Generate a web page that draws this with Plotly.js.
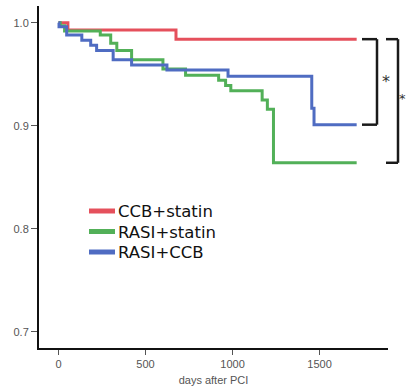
<!DOCTYPE html>
<html>
<head>
<meta charset="utf-8">
<script src="https://cdn.plot.ly/plotly-3.0.1.min.js"></script>
<style>html,body{margin:0;padding:0;background:#fff;}#chart{width:407px;height:389px;}</style>
</head>
<body>
<div id="chart"></div>
<script>
// Kaplan-Meier step data (days after PCI, event-free survival)
const seriesNames = ["CCB+statin", "RASI+statin", "RASI+CCB"];
const seriesColors = ["#e5505c", "#52b058", "#4f6cc2"];

const ccbStatinDays = [0, 54, 675, 1713];
const ccbStatinSurv = [1.0, 0.993, 0.984, 0.984];

const rasiStatinDays = [0, 10, 35, 240, 300, 335, 420, 600, 730, 920, 960, 990, 1170, 1200, 1235, 1713];
const rasiStatinSurv = [1.0, 0.997, 0.992, 0.988, 0.980, 0.973, 0.964, 0.955, 0.949, 0.944, 0.939, 0.934, 0.925, 0.916, 0.864, 0.864];

const rasiCcbDays = [0, 3, 47, 134, 185, 219, 314, 420, 623, 974, 1455, 1468, 1713];
const rasiCcbSurv = [1.0, 0.996, 0.988, 0.983, 0.978, 0.973, 0.964, 0.959, 0.954, 0.948, 0.917, 0.901, 0.901];

const xTickVals = [0, 500, 1000, 1500];
const xTickText = ["0", "500", "1000", "1500"];
const yTickVals = [0.7, 0.8, 0.9, 1.0];
const yTickText = ["0.7", "0.8", "0.9", "1.0"];

const allDays = [ccbStatinDays, rasiStatinDays, rasiCcbDays];
const allSurv = [ccbStatinSurv, rasiStatinSurv, rasiCcbSurv];

const traces = [];
for (let i = 0; i < 3; i++) {
  traces.push({
    x: allDays[i], y: allSurv[i], type: "scatter", mode: "lines",
    line: {shape: "hv", color: seriesColors[i], width: 3},
    name: seriesNames[i], showlegend: false, hoverinfo: "skip"
  });
}

const W = 407, H = 389;
const L = 39, R = 388, T = 6, B = 348;
const px = v => (v - L) / (R - L);
const py = v => (B - v) / (B - T);
const endRed = ccbStatinSurv[ccbStatinSurv.length - 1];
const endBlue = rasiCcbSurv[rasiCcbSurv.length - 1];
const endGreen = rasiStatinSurv[rasiStatinSurv.length - 1];
const bl = {color: "#1a1a1a", width: 2.5};
const shapes = [
  {type: "line", xref: "paper", yref: "y", x0: px(362), x1: px(377), y0: endRed, y1: endRed, line: bl},
  {type: "line", xref: "paper", yref: "y", x0: px(377), x1: px(377), y0: endRed, y1: endBlue, line: bl},
  {type: "line", xref: "paper", yref: "y", x0: px(362), x1: px(377), y0: endBlue, y1: endBlue, line: bl},
  {type: "line", xref: "paper", yref: "y", x0: px(386), x1: px(398), y0: endRed, y1: endRed, line: bl},
  {type: "line", xref: "paper", yref: "y", x0: px(398), x1: px(398), y0: endRed, y1: endGreen, line: bl},
  {type: "line", xref: "paper", yref: "y", x0: px(386), x1: px(398), y0: endGreen, y1: endGreen, line: bl}
];

// hand-placed legend (swatch + label) to match the reference spacing
const legendRows = [211, 231.5, 252];
const annotations = [
  {xref: "paper", yref: "paper", x: px(386), y: py(81), text: "*", showarrow: false,
   font: {family: "DejaVu Sans", size: 16, color: "#333"}, xanchor: "center", yanchor: "middle"},
  {xref: "paper", yref: "paper", x: px(402.5), y: py(98), text: "*", showarrow: false,
   font: {family: "DejaVu Sans", size: 13, color: "#333"}, xanchor: "center", yanchor: "middle"}
];
for (let i = 0; i < 3; i++) {
  shapes.push({type: "line", xref: "paper", yref: "paper", x0: px(89), x1: px(115),
    y0: py(legendRows[i]), y1: py(legendRows[i]), line: {color: seriesColors[i], width: 5}});
  annotations.push({xref: "paper", yref: "paper", x: px(116), y: py(legendRows[i] + 0.5),
    text: seriesNames[i], showarrow: false, xanchor: "left", yanchor: "middle",
    font: {family: "DejaVu Sans", size: 16.5, color: "#111"}});
}

const layout = {
  width: W, height: H,
  margin: {l: L, r: W - R, t: T, b: H - B},
  paper_bgcolor: "#fff", plot_bgcolor: "#fff",
  font: {family: "Liberation Sans, Arial, sans-serif", size: 11, color: "#555"},
  showlegend: false,
  xaxis: {
    range: [-112, 1893], showgrid: false, zeroline: false,
    showline: true, linecolor: "#111", linewidth: 2,
    ticks: "outside", ticklen: 5, tickwidth: 1, tickcolor: "#555",
    tickvals: xTickVals, ticktext: xTickText,
    tickfont: {size: 11, color: "#555"},
    title: {text: "days after PCI", font: {size: 11, color: "#555"}, standoff: 7}
  },
  yaxis: {
    range: [0.6842, 1.0162], showgrid: false, zeroline: false,
    showline: true, linecolor: "#111", linewidth: 2,
    ticks: "outside", ticklen: 6, tickwidth: 1, tickcolor: "#555",
    tickvals: yTickVals, ticktext: yTickText,
    tickfont: {size: 11, color: "#555"}
  },
  shapes: shapes,
  annotations: annotations
};

Plotly.newPlot("chart", traces, layout, {displayModeBar: false, staticPlot: true});
</script>
</body>
</html>
